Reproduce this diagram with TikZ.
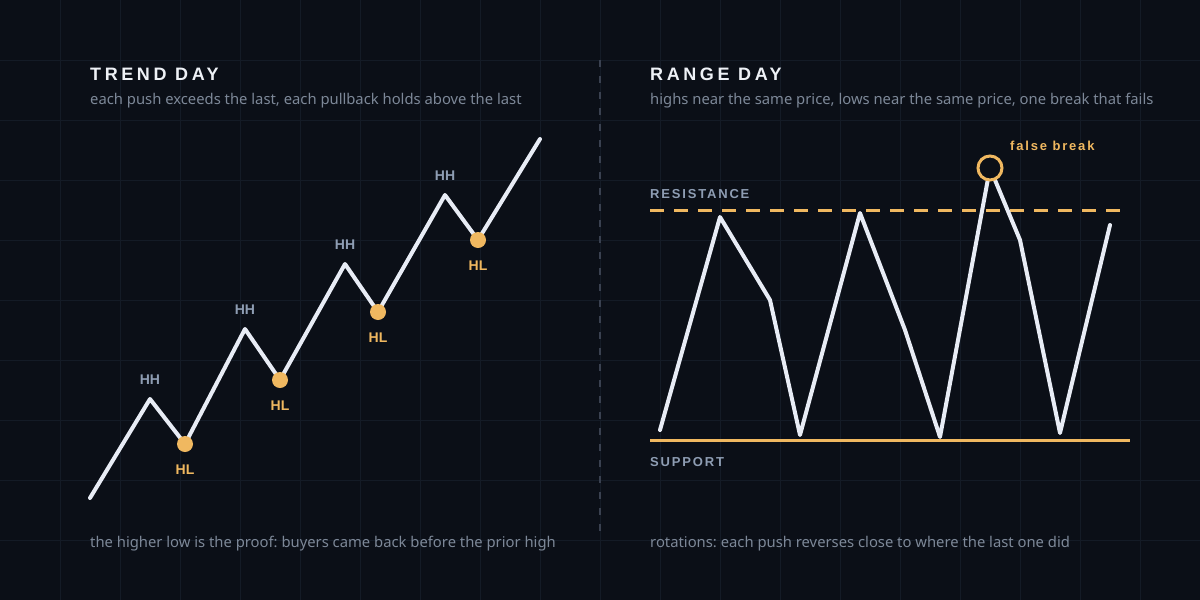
\documentclass[tikz,border=0pt]{standalone}
\usepackage{fontspec}
\setmainfont{Liberation Sans}
\newfontfamily\bodyfont{Noto Sans}
\newfontfamily\spacedbig[LetterSpace=20]{Liberation Sans}
\newfontfamily\spacedsm[LetterSpace=14]{Liberation Sans}
\definecolor{bgc}{HTML}{0B0F17}
\definecolor{gridc}{HTML}{141B26}
\definecolor{titlec}{HTML}{EEF1F6}
\definecolor{subc}{HTML}{7D8898}
\definecolor{tagc}{HTML}{8E9DB3}
\definecolor{orangec}{HTML}{F0B860}
\definecolor{linec}{HTML}{E8ECF5}
\definecolor{divc}{HTML}{3A4150}
\tikzset{
  gridline/.style={draw=gridc, line width=1pt},
  title/.style={anchor=base west, inner sep=0pt, text=titlec, font=\spacedbig\bfseries\fontsize{18}{22}\selectfont},
  subtitle/.style={anchor=base west, inner sep=0pt, text=subc, font=\bodyfont\fontsize{14.8}{17}\selectfont},
  hhlabel/.style={anchor=base, inner sep=0pt, text=tagc, font=\bfseries\fontsize{14}{17}\selectfont},
  hllabel/.style={anchor=base, inner sep=0pt, text=orangec, font=\bfseries\fontsize{14}{17}\selectfont},
  levellabel/.style={anchor=base west, inner sep=0pt, text=tagc, font=\spacedsm\bfseries\fontsize{13}{16}\selectfont},
  pricepath/.style={draw=linec, line width=4pt, line join=round, line cap=round},
  hldot/.style={fill=orangec},
}
\begin{document}
\frenchspacing
\begin{tikzpicture}[x=1pt,y=-1pt]
\useasboundingbox (0,0) rectangle (1200,600);
\fill[bgc] (0,0) rectangle (1200,600);
% grid
\foreach \x in {60,120,...,1140} \draw[gridline] (\x,0) -- (\x,600);
\foreach \y in {60,120,...,540} \draw[gridline] (0,\y) -- (1200,\y);
% divider
\coordinate (dtop) at (600,60);
\coordinate (dbot) at (600,532);
\draw[divc, line width=1.5pt, dash pattern=on 7pt off 9pt] (dtop) -- (dbot);

% ---------- left panel ----------
\node[title] (t1) at (90,80) {TREND DAY};
\node[subtitle] (s1) at (90,104) {each push exceeds the last, each pullback holds above the last};
\node[subtitle] (c1) at (90,547) {the higher low is the proof: buyers came back before the prior high};

\coordinate (p0) at (90,498);
\coordinate (hh1) at (150,399);
\coordinate (hl1) at (185,444);
\coordinate (hh2) at (245,329);
\coordinate (hl2) at (280,380);
\coordinate (hh3) at (345,264);
\coordinate (hl3) at (378,312);
\coordinate (hh4) at (445,195);
\coordinate (hl4) at (478,240);
\coordinate (p9) at (540,139);
\draw[pricepath] (p0) -- (hh1) -- (hl1) -- (hh2) -- (hl2) -- (hh3) -- (hl3) -- (hh4) -- (hl4) -- (p9);
\foreach \n in {hl1,hl2,hl3,hl4} \fill[hldot] (\n) circle (8);
\node[hhlabel] (lhh1) at ([yshift=15pt]hh1) {HH};
\node[hhlabel] (lhh2) at ([yshift=15pt]hh2) {HH};
\node[hhlabel] (lhh3) at ([yshift=15pt]hh3) {HH};
\node[hhlabel] (lhh4) at ([yshift=15pt]hh4) {HH};
\node[hllabel] (lhl1) at ([yshift=-30pt]hl1) {HL};
\node[hllabel] (lhl2) at ([yshift=-30pt]hl2) {HL};
\node[hllabel] (lhl3) at ([yshift=-30pt]hl3) {HL};
\node[hllabel] (lhl4) at ([yshift=-30pt]hl4) {HL};

% ---------- right panel ----------
\node[title] (t2) at (650,80) {RANGE DAY};
\node[subtitle] (s2) at (650,104) {highs near the same price, lows near the same price, one break that fails};
\node[subtitle] (c2) at (650,547) {rotations: each push reverses close to where the last one did};

\coordinate (resL) at (650,210);
\coordinate (resR) at (1120,210);
\coordinate (supL) at (650,440);
\coordinate (supR) at (1130,440);
\draw[orangec, line width=3pt, dash pattern=on 14pt off 10pt] (resL) -- (resR);
\draw[orangec, line width=3pt] (supL) -- (supR);
\node[levellabel] (res) at (650,198) {RESISTANCE};
\node[levellabel] (sup) at (650,466) {SUPPORT};

\coordinate (r0) at (660,430);
\coordinate (r1) at (720,217);
\coordinate (r2) at (770,300);
\coordinate (r3) at (800,435);
\coordinate (r4) at (860,213);
\coordinate (r5) at (905,330);
\coordinate (r6) at (940,437);
\coordinate (r7) at (990,168);
\coordinate (r8) at (1020,240);
\coordinate (r9) at (1060,433);
\coordinate (r10) at (1110,225);
\draw[pricepath] (r0) -- (r1) -- (r2) -- (r3) -- (r4) -- (r5) -- (r6) -- (r7) -- (r8) -- (r9) -- (r10);
\draw[orangec, line width=3pt, fill=bgc] (r7) circle (12);
\node[anchor=base west, inner sep=0pt, text=orangec, font=\spacedsm\bfseries\fontsize{13}{16}\selectfont] (fb) at (1010,150) {false break};
\end{tikzpicture}
\end{document}
